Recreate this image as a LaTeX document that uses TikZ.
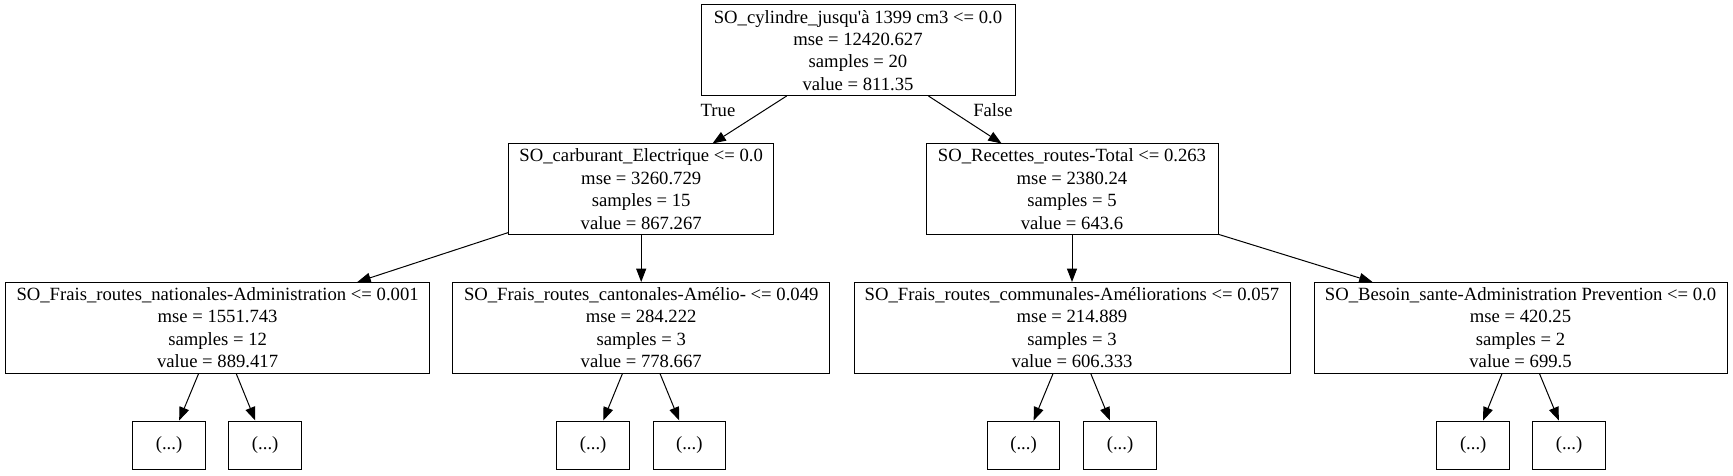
\documentclass[tikz,border=0pt]{standalone}
\usepackage{fontspec}
\newfontfamily\gv{Liberation Serif}
\usetikzlibrary{arrows.meta}
\begin{document}
\begin{tikzpicture}[x=0.75pt,y=-0.75pt,
  tree/.style={draw, line width=0.75pt, rectangle, inner sep=0pt, align=center,
    font=\gv\fontsize{14}{16.8}\selectfont, minimum height=67.9pt},
  leaf/.style={tree, minimum width=54.4pt, minimum height=36pt},
  edge/.style={line width=0.75pt, -{Triangle[length=10pt,width=7.5pt]}},
  lbl/.style={font=\gv\fontsize{14}{16.8}\selectfont, inner sep=0pt}]
\useasboundingbox (0,0) rectangle (1733,475);
% level 0
\node[tree, minimum width=235.5pt] (R) at (858,50.25)
  {SO\_cylindre\_jusqu'à 1399 cm3 <= 0.0\\mse = 12420.627\\samples = 20\\value = 811.35};
% level 1
\node[tree, minimum width=198.75pt] (L) at (641.2,189.25)
  {SO\_carburant\_Electrique <= 0.0\\mse = 3260.729\\samples = 15\\value = 867.267};
\node[tree, minimum width=219pt] (Rr) at (1072,189.25)
  {SO\_Recettes\_routes-Total <= 0.263\\mse = 2380.24\\samples = 5\\value = 643.6};
% level 2
\node[tree, minimum width=318pt] (A) at (217.6,327.75)
  {SO\_Frais\_routes\_nationales-Administration <= 0.001\\mse = 1551.743\\samples = 12\\value = 889.417};
\node[tree, minimum width=282.75pt] (B) at (641.2,327.75)
  {SO\_Frais\_routes\_cantonales-Amélio- <= 0.049\\mse = 284.222\\samples = 3\\value = 778.667};
\node[tree, minimum width=327pt] (C) at (1072,327.75)
  {SO\_Frais\_routes\_communales-Améliorations <= 0.057\\mse = 214.889\\samples = 3\\value = 606.333};
\node[tree, minimum width=309.75pt] (D) at (1520.5,327.75)
  {SO\_Besoin\_sante-Administration Prevention <= 0.0\\mse = 420.25\\samples = 2\\value = 699.5};
% leaves
\node[leaf] (a1) at (169,445) {(...)};
\node[leaf] (a2) at (265.2,445) {(...)};
\node[leaf] (b1) at (593.2,445) {(...)};
\node[leaf] (b2) at (689.3,445) {(...)};
\node[leaf] (c1) at (1023.5,445) {(...)};
\node[leaf] (c2) at (1120,445) {(...)};
\node[leaf] (d1) at (1473.2,445) {(...)};
\node[leaf] (d2) at (1569,445) {(...)};
% edges
\draw[edge] (R) -- (L);
\draw[edge] (R) -- (Rr);
\draw[edge] (L) -- (A);
\draw[edge] (L) -- (B);
\draw[edge] (Rr) -- (C);
\draw[edge] (Rr) -- (D);
\draw[edge] (A) -- (a1);
\draw[edge] (A) -- (a2);
\draw[edge] (B) -- (b1);
\draw[edge] (B) -- (b2);
\draw[edge] (C) -- (c1);
\draw[edge] (C) -- (c2);
\draw[edge] (D) -- (d1);
\draw[edge] (D) -- (d2);
% edge labels
\node[lbl] (tl) at (718,110) {True};
\node[lbl] (fl) at (993,110) {False};
\end{tikzpicture}
\end{document}
